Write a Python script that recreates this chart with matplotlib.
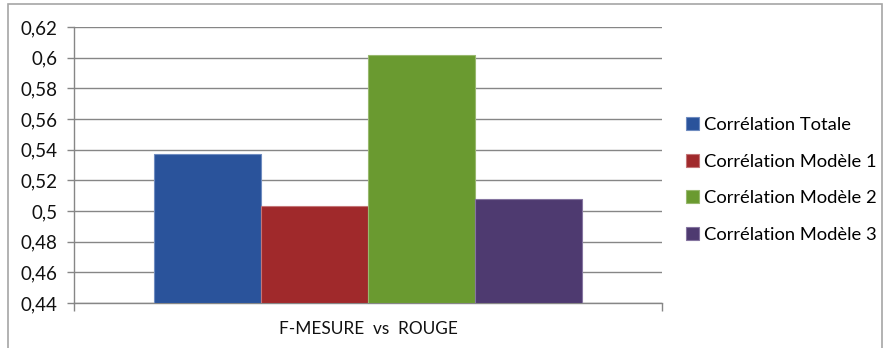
import matplotlib
matplotlib.use("Agg")
import matplotlib.pyplot as plt
from matplotlib.patches import Rectangle
from matplotlib.ticker import FuncFormatter

plt.rcParams.update({"font.family": ["Lato", "DejaVu Sans"], "font.size": 10})

category = "F-MESURE  vs  ROUGE"
series = ["Corrélation Totale", "Corrélation Modèle 1",
          "Corrélation Modèle 2", "Corrélation Modèle 3"]
values = [0.537, 0.503, 0.602, 0.508]
colors = ["#2A539B", "#A0292B", "#6A9A30", "#4E3A70"]
edges = ["#6F8CC0", "#C47577", "#98B86E", "#8575A0"]
yticks = [0.44, 0.46, 0.48, 0.50, 0.52, 0.54, 0.56, 0.58, 0.60, 0.62]

W, H, DPI = 885, 348, 100
fig = plt.figure(figsize=(W / DPI, H / DPI), dpi=DPI)
fig.patch.set_facecolor("white")

# outer chart frame
fig.patches.append(Rectangle((8 / W, -0.05), (882 - 8) / W, 1 - 4 / H + 0.05,
                             transform=fig.transFigure, fill=False,
                             edgecolor="#A6A6A6", linewidth=1.2))

ax = fig.add_axes([74 / W, 1 - 303 / H, (662 - 74) / W, (303 - 27) / H])

# clustered bars, gap width 150%
w = 1 / 5.5
for i, (v, c, e, lab) in enumerate(zip(values, colors, edges, series)):
    x = (i - 1.5) * w
    ax.bar(x, v - yticks[0], bottom=yticks[0], width=w, color=c,
           edgecolor=e, linewidth=0.8, label=lab, zorder=3)

ax.set_xlim(-0.5, 0.5)
ax.set_ylim(yticks[0], yticks[-1])
ax.set_yticks(yticks)
ax.yaxis.set_major_formatter(FuncFormatter(
    lambda v, _: f"{v:.2f}".rstrip("0").rstrip(".").replace(".", ",")))
ax.yaxis.grid(True, color="#868686", linewidth=1.0, zorder=0)
ax.set_axisbelow(True)

ax.set_xticks([0], labels=[category])
ax.set_xticks([-0.5, 0.5], minor=True)
ax.tick_params(axis="x", which="major", length=0, pad=13, labelsize=12.4,
               labelcolor="#111111")
ax.tick_params(axis="x", which="minor", length=6, width=1, color="#868686")
ax.tick_params(axis="y", length=5, width=1, color="#868686", pad=7,
               labelsize=13.5, labelcolor="#111111")

for s in ["top", "right"]:
    ax.spines[s].set_visible(False)
for s in ["left", "bottom"]:
    ax.spines[s].set_color("#868686")
    ax.spines[s].set_linewidth(1.0)

leg = fig.legend(loc="upper left", bbox_to_anchor=(686 / W, 1 - 117 / H),
                 frameon=False, fontsize=13.2, handlelength=0.7,
                 handleheight=0.7, handletextpad=0.3, labelspacing=1.12,
                 borderaxespad=0, borderpad=0)

fig.savefig("out.png", dpi=DPI)
